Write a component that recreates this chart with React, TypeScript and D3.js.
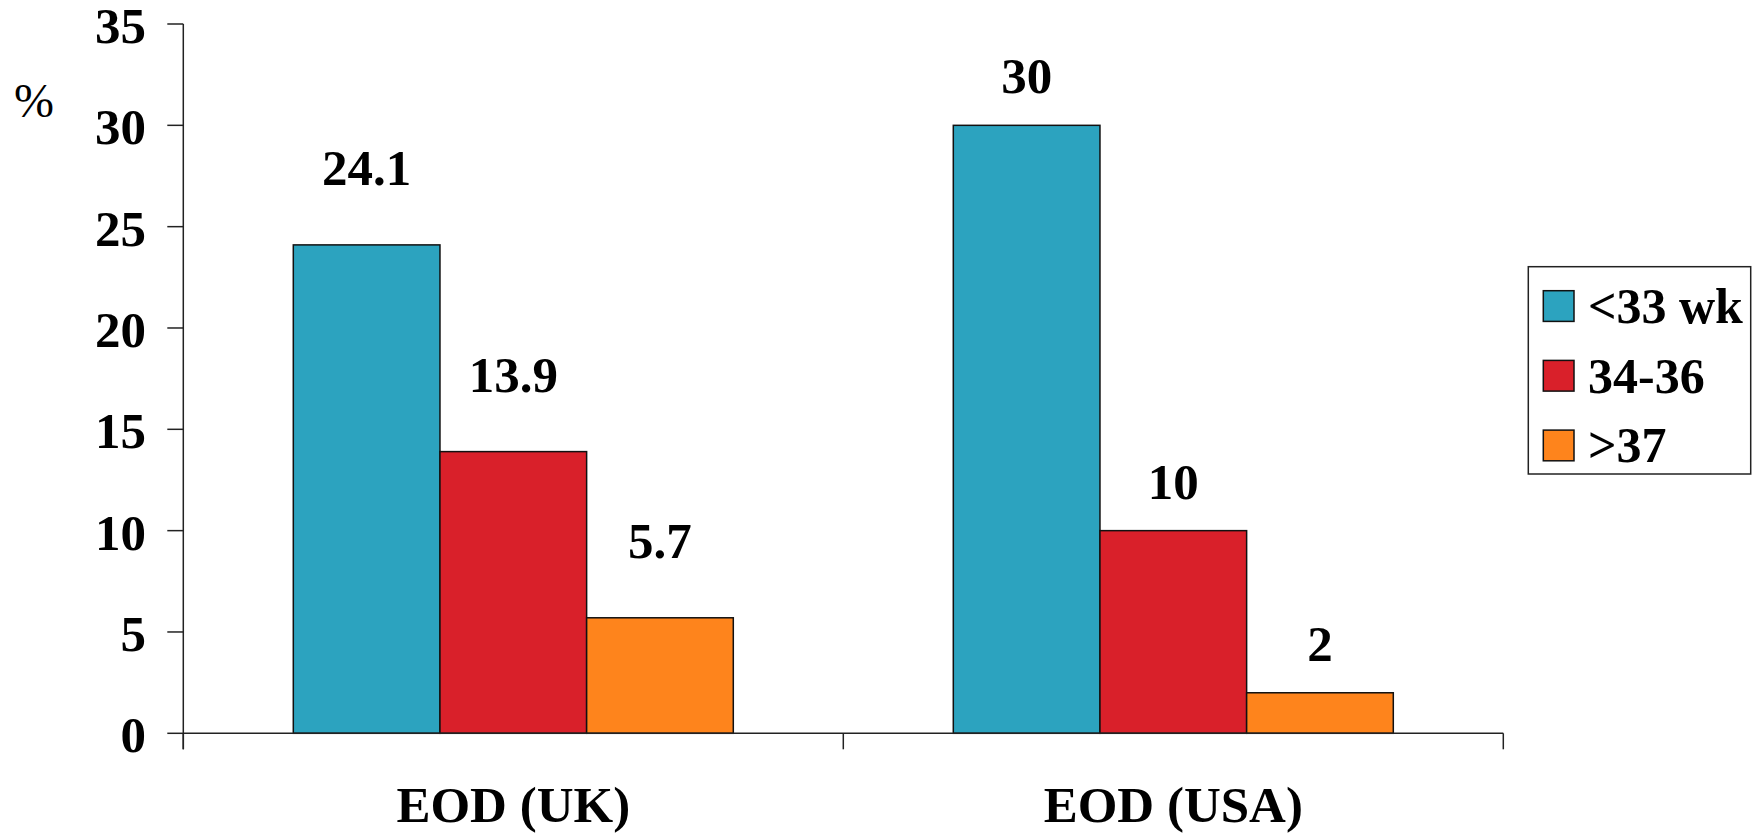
import React from "react";
import * as d3 from "d3";

// Early-onset disease rates (%) by gestational age group
const categories = ["EOD (UK)", "EOD (USA)"];
const seriesNames = ["<33 wk", "34-36", ">37"];
const ukValues = [24.1, 13.9, 5.7];
const usaValues = [30, 10, 2];
const yTicks = [0, 5, 10, 15, 20, 25, 30, 35];
const seriesColors = ["#2ca3bf", "#d9202a", "#fe841c"];
const labelLift = [60, 32];

const W = 1764;
const H = 833;
const FONT = "Liberation Serif, Times New Roman, serif";

export default function App() {
  const values = [ukValues, usaValues];
  const x0 = d3.scaleBand<string>().domain(categories).range([183.3, 1503.3]).paddingInner(0).paddingOuter(0);
  // bars fill the middle two thirds of each category band
  const x1 = d3
    .scaleBand<string>()
    .domain(seriesNames)
    .range([0, x0.bandwidth()])
    .paddingOuter(0.75)
    .paddingInner(0);
  const y = d3.scaleLinear().domain([0, 35]).range([733.3, 24]);
  const axisX = 183.3;
  const baseY = y(0);

  return (
    <div style={{ position: "absolute", left: 0, top: 0 }}>
      <svg width={W} height={H} style={{ display: "block", background: "#fff" }}>
        {/* % unit label */}
        <text x={14} y={117} fontFamily={FONT} fontSize={48} fill="#000">
          %
        </text>

        {/* bars */}
        {categories.map((c, ci) =>
          seriesNames.map((s, si) => {
            const v = values[ci][si];
            const bx = (x0(c) as number) + (x1(s) as number);
            return (
              <rect
                key={c + s}
                x={bx}
                y={y(v)}
                width={x1.bandwidth()}
                height={baseY - y(v)}
                fill={seriesColors[si]}
                stroke="#111"
                strokeWidth={1.5}
              />
            );
          })
        )}

        {/* value labels */}
        {categories.map((c, ci) =>
          seriesNames.map((s, si) => {
            const v = values[ci][si];
            const cx = (x0(c) as number) + (x1(s) as number) + x1.bandwidth() / 2;
            return (
              <text
                key={"l" + c + s}
                x={cx}
                y={y(v) - labelLift[ci]}
                textAnchor="middle"
                fontFamily={FONT}
                fontWeight="bold"
                fontSize={51}
                fill="#000"
              >
                {String(v)}
              </text>
            );
          })
        )}

        {/* y axis */}
        <line x1={axisX} x2={axisX} y1={y(35)} y2={baseY + 16} stroke="#222" strokeWidth={1.5} />
        {yTicks.map((t) => (
          <g key={"yt" + t}>
            <line x1={axisX - 16} x2={axisX} y1={y(t)} y2={y(t)} stroke="#222" strokeWidth={1.5} />
            <text
              x={146}
              y={y(t) + 19}
              textAnchor="end"
              fontFamily={FONT}
              fontWeight="bold"
              fontSize={51}
              fill="#000"
            >
              {t}
            </text>
          </g>
        ))}

        {/* x axis */}
        <line x1={axisX} x2={1503.3} y1={baseY} y2={baseY} stroke="#222" strokeWidth={1.5} />
        {[...categories.map((c) => x0(c) as number), 1503.3].map((tx, i) => (
          <line key={"xt" + i} x1={tx} x2={tx} y1={baseY} y2={baseY + 16} stroke="#222" strokeWidth={1.5} />
        ))}
        {categories.map((c) => (
          <text
            key={"xl" + c}
            x={(x0(c) as number) + x0.bandwidth() / 2}
            y={822}
            textAnchor="middle"
            fontFamily={FONT}
            fontWeight="bold"
            fontSize={51}
            fill="#000"
          >
            {c}
          </text>
        ))}

        {/* legend */}
        <rect x={1528.3} y={266.7} width={222.4} height={207.3} fill="#fff" stroke="#222" strokeWidth={1.5} />
        {seriesNames.map((s, si) => {
          const cy = 306 + si * 69.7;
          return (
            <g key={"lg" + s}>
              <rect x={1543.3} y={cy - 15.3} width={30.7} height={30.7} fill={seriesColors[si]} stroke="#111" strokeWidth={1.5} />
              <text
                x={1588}
                y={cy + 17}
                fontFamily={FONT}
                fontWeight="bold"
                fontSize={50}
                fill="#000"
              >
                {s}
              </text>
            </g>
          );
        })}
      </svg>
    </div>
  );
}
